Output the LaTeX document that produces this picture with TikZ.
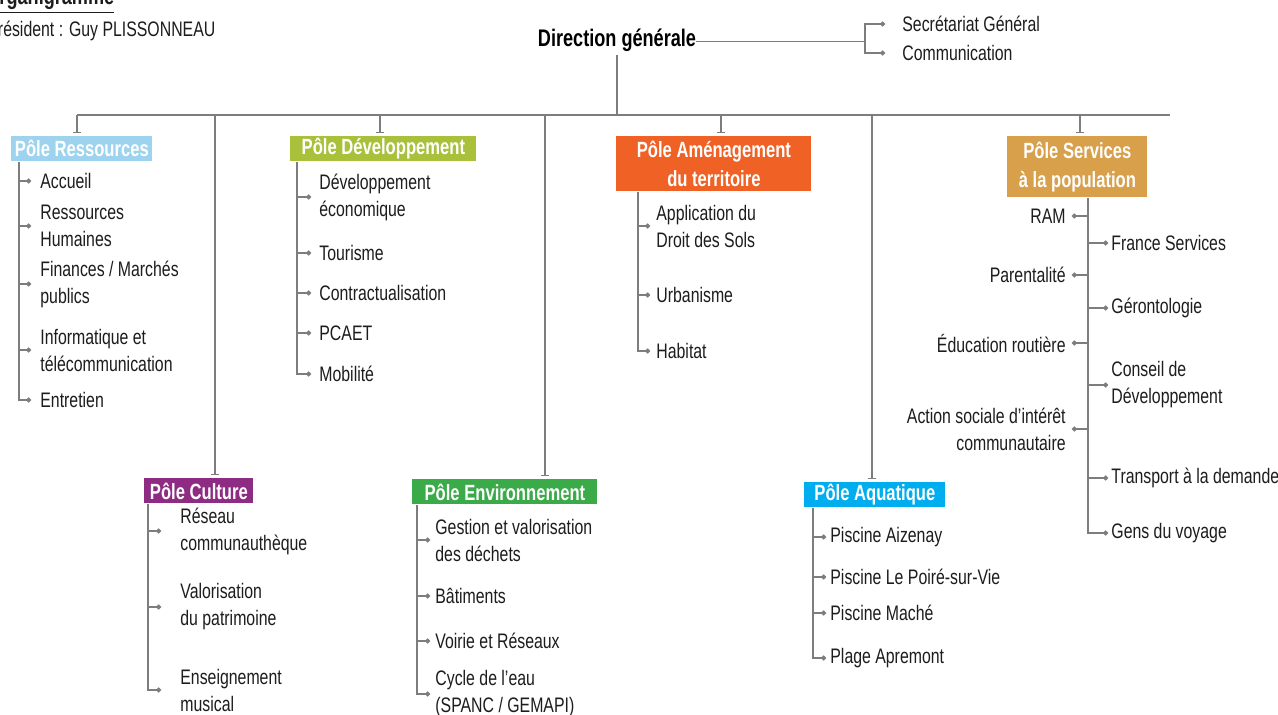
\documentclass[tikz,border=0pt]{standalone}
\usepackage{fontspec}
\setmainfont{Liberation Sans}[FakeStretch=0.755]
\usetikzlibrary{arrows.meta, positioning}

\definecolor{cRes}{RGB}{157,211,238}
\definecolor{cDev}{RGB}{168,192,58}
\definecolor{cAme}{RGB}{240,97,37}
\definecolor{cSer}{RGB}{216,160,74}
\definecolor{cCul}{RGB}{142,44,131}
\definecolor{cEnv}{RGB}{59,170,72}
\definecolor{cAqu}{RGB}{0,174,239}
\definecolor{lineGray}{RGB}{125,125,125}
\definecolor{txt}{RGB}{30,28,28}

\tikzset{
  pole/.style={anchor=north west, fill=#1, text=white, font=\bfseries\fontsize{11}{14.5}\selectfont,
    inner xsep=1pt, inner ysep=0pt, align=center, minimum height=12.5pt},
  item/.style={anchor=west, text=txt, font=\fontsize{10.5}{13.5}\selectfont, inner xsep=#1, inner ysep=0pt, align=left},
  item/.default=4pt,
  itemL/.style={anchor=east, text=txt, font=\fontsize{10.5}{13.5}\selectfont, inner xsep=3pt, inner ysep=0pt, align=right},
  link/.style={draw=lineGray, line width=0.7pt},
  twig/.style={link, -{Circle[length=2.4pt]}},
  drop/.style={link, -{Bar[width=4pt]}, shorten >=1.5pt},
}

\begin{document}
\begin{tikzpicture}[x=0.5pt, y=-0.5pt]
  \path[use as bounding box, fill=white] (0,0) rectangle (1278,715);

  % title
  \node[anchor=base west, font=\bfseries\fontsize{12}{14}\selectfont, text=txt, inner sep=0pt] (title) at (-15,5) {\underline{Organigramme}};
  \node[anchor=west, font=\fontsize{10.5}{13}\selectfont, text=txt, inner sep=0pt] (pres) at (-13,31) {Président : Guy PLISSONNEAU};

  % direction
  \node[anchor=base, font=\bfseries\fontsize{12}{14}\selectfont, text=black, inner sep=0pt] (dir) at (617,47) {Direction générale};
  \node[item=8.5pt] (sec) at (885,24) {Secrétariat Général};
  \node[item=8.5pt] (com) at (885,53) {Communication};
  \coordinate (brk) at (865,41);
  \draw[link] (dir.mid east) -- (dir.mid east -| brk);
  \draw[link, {Circle[length=2.4pt]}-{Circle[length=2.4pt]}] (sec.west) -| (brk) |- (com.west);

  \coordinate (barL) at (77,115);
  \coordinate (barR) at (1170,115);
  \draw[link] (barL) -- (barR);
  \draw[link, shorten <=1.5pt] (dir.south) -- (dir.south |- barL);

  % poles
  \node[pole=cRes, minimum width=70.5pt] (res) at (11,136) {Pôle Ressources};
  \node[pole=cDev, minimum width=93pt] (dev) at (290,136) {Pôle Développement};
  \node[pole=cAme, minimum width=97.5pt, minimum height=27.5pt] (ame) at (616,136) {Pôle Aménagement\\du territoire};
  \node[pole=cSer, minimum width=70pt, minimum height=30.5pt] (ser) at (1007,136) {Pôle Services\\à la population};
  \node[pole=cCul, minimum width=54.5pt] (cul) at (144,478) {Pôle Culture};
  \node[pole=cEnv, minimum width=92.5pt] (env) at (412,479) {Pôle Environnement};
  \node[pole=cAqu, minimum width=70.5pt] (aqu) at (804,482) {Pôle Aquatique};

  \foreach \x/\p in {77/res, 215/cul, 380/dev, 545/env, 721/ame, 872/aqu, 1080/ser} {
    \coordinate (d\p) at (\x,115);
    \draw[drop] (d\p) -- (d\p |- \p.north);
  }

  % Pole Ressources
  \coordinate (resx) at (19,0);
  \node[item=4.5pt] (res1) at (31,181) {Accueil};
  \node[item=4.5pt] (res2) at (31,226) {Ressources\\Humaines};
  \node[item=4.5pt] (res3) at (31,284) {Finances / Marchés\\publics};
  \node[item=4.5pt] (res4) at (31,350) {Informatique et\\télécommunication};
  \node[item=4.5pt] (res5) at (31,400) {Entretien};
  \draw[twig] (res.south -| resx) |- (res5.west);
  \foreach \i in {1,...,4} \draw[twig] (resx |- res\i.west) -- (res\i.west);

  % Pole Developpement
  \coordinate (devx) at (297,0);
  \node[item] (dev1) at (311,197) {Développement\\économique};
  \node[item] (dev2) at (311,253) {Tourisme};
  \node[item] (dev3) at (311,293) {Contractualisation};
  \node[item] (dev4) at (311,333) {PCAET};
  \node[item] (dev5) at (311,374) {Mobilité};
  \draw[twig] (dev.south -| devx) |- (dev5.west);
  \foreach \i in {1,...,4} \draw[twig] (devx |- dev\i.west) -- (dev\i.west);

  % Pole Amenagement
  \coordinate (amex) at (638,0);
  \node[item=3pt] (ame1) at (650,226) {Application du\\Droit des Sols};
  \node[item=3pt] (ame2) at (650,295) {Urbanisme};
  \node[item=3pt] (ame3) at (650,351) {Habitat};
  \draw[twig] (ame.south -| amex) |- (ame3.west);
  \foreach \i in {1,2} \draw[twig] (amex |- ame\i.west) -- (ame\i.west);

  % Pole Services
  \coordinate (serx) at (1088,0);
  \node[itemL] (serL1) at (1072,216) {RAM};
  \node[itemL] (serL2) at (1072,275) {Parentalité};
  \node[itemL] (serL3) at (1072,343) {Éducation routière};
  \node[itemL] (serL4) at (1072,429) {Action sociale d’intérêt\\communautaire};
  \node[item=1.5pt] (serR1) at (1108,243) {France Services};
  \node[item=1.5pt] (serR2) at (1108,308) {Gérontologie};
  \node[item=1.5pt] (serR3) at (1108,385) {Conseil de\\Développement};
  \node[item=1.5pt] (serR4) at (1108,478) {Transport à la demande};
  \node[item=1.5pt] (serR5) at (1108,533) {Gens du voyage};
  \draw[twig] (ser.south -| serx) |- (serR5.west);
  \foreach \i in {1,...,4} {
    \draw[twig] (serx |- serL\i.east) -- (serL\i.east);
    \draw[twig] (serx |- serR\i.west) -- (serR\i.west);
  }

  % Pole Culture
  \coordinate (culx) at (148,0);
  \node[item=9.5pt] (cul1) at (161,531) {Réseau\\communauthèque};
  \node[item=9.5pt] (cul2) at (161,607) {Valorisation\\du patrimoine};
  \node[item=9.5pt] (cul3) at (161,690) {Enseignement\\musical};
  \draw[twig] (cul.south -| culx) |- (cul3.west);
  \foreach \i in {1,2} \draw[twig] (culx |- cul\i.west) -- (cul\i.west);

  % Pole Environnement
  \coordinate (envx) at (417,0);
  \node[item=2.5pt] (env1) at (430,540) {Gestion et valorisation\\des déchets};
  \node[item=2.5pt] (env2) at (430,596) {Bâtiments};
  \node[item=2.5pt] (env3) at (430,641) {Voirie et Réseaux};
  \node[item=2.5pt] (env4) at (430,694) {Cycle de l’eau\\(SPANC / GEMAPI)};
  \draw[twig] (env.south -| envx) |- (env4.west);
  \foreach \i in {1,...,3} \draw[twig] (envx |- env\i.west) -- (env\i.west);

  % Pole Aquatique
  \coordinate (aqux) at (813,0);
  \node[item=2pt] (aqu1) at (826,537) {Piscine Aizenay};
  \node[item=2pt] (aqu2) at (826,577) {Piscine Le Poiré-sur-Vie};
  \node[item=2pt] (aqu3) at (826,613) {Piscine Maché};
  \node[item=2pt] (aqu4) at (826,658) {Plage Apremont};
  \draw[twig] (aqu.south -| aqux) |- (aqu4.west);
  \foreach \i in {1,...,3} \draw[twig] (aqux |- aqu\i.west) -- (aqu\i.west);
\end{tikzpicture}
\end{document}
